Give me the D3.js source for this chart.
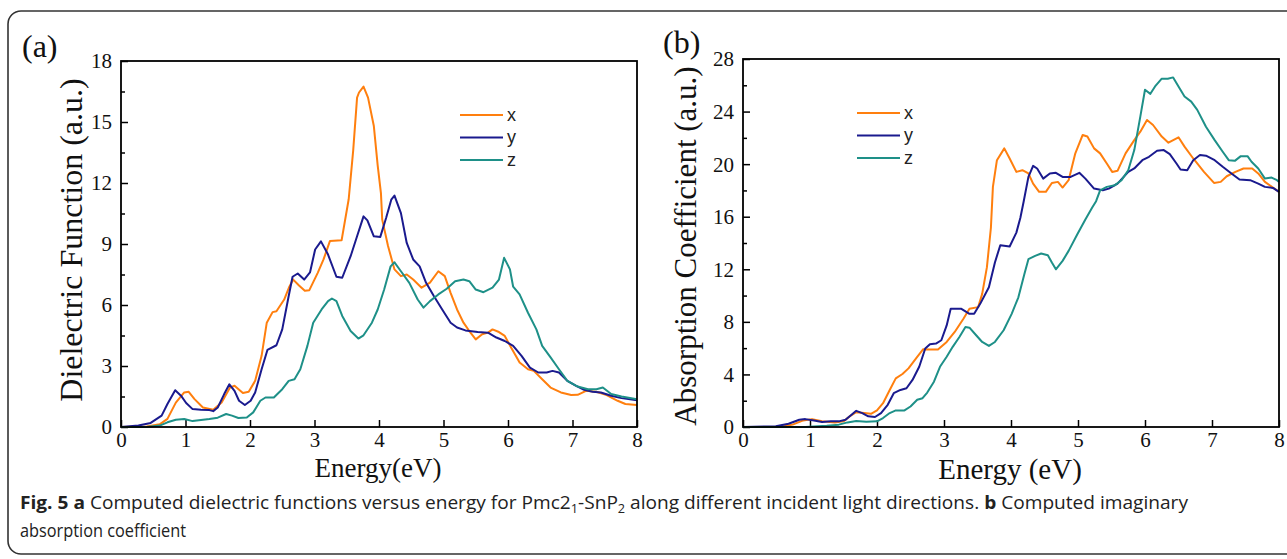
<!DOCTYPE html>
<html><head><meta charset="utf-8">
<script src="https://cdn.jsdelivr.net/npm/d3@7"></script>
<style>body{margin:0;background:#fff}svg{display:block}</style>
</head><body>
<svg id="c" width="1287" height="559"></svg>
<script>
// ---------- DATA ----------
const seriesNames = ["x", "y", "z"];
const xTicks = [0, 1, 2, 3, 4, 5, 6, 7, 8];
const dielTicks = [0, 3, 6, 9, 12, 15, 18];
const absTicks = [0, 4, 8, 12, 16, 20, 24, 28];

// (a) Dielectric function  [energy eV, value]
const dielX = [[0,0],[0.4,0.03],[0.6,0.13],[0.72,0.4],[0.85,1.2],[0.98,1.7],[1.05,1.73],[1.14,1.37],[1.27,0.96],[1.43,0.85],[1.56,1.2],[1.69,1.94],[1.76,2.03],[1.89,1.67],[1.98,1.73],[2.08,2.27],[2.18,3.5],[2.26,5.13],[2.35,5.65],[2.41,5.69],[2.53,6.27],[2.61,6.9],[2.67,7.25],[2.76,6.96],[2.85,6.7],[2.92,6.73],[3.05,7.58],[3.14,8.24],[3.24,9.15],[3.42,9.18],[3.53,11.2],[3.6,13.6],[3.66,16.2],[3.69,16.45],[3.76,16.74],[3.83,16.2],[3.92,14.8],[3.98,12.85],[4.03,11.5],[4.05,10.2],[4.14,8.9],[4.24,7.75],[4.34,7.42],[4.43,7.5],[4.53,7.25],[4.66,6.85],[4.79,7.1],[4.92,7.66],[5.02,7.42],[5.11,6.6],[5.21,5.78],[5.31,5.13],[5.4,4.72],[5.5,4.31],[5.6,4.56],[5.69,4.64],[5.76,4.8],[5.86,4.67],[5.95,4.48],[6.05,3.9],[6.18,3.17],[6.31,2.84],[6.4,2.76],[6.53,2.35],[6.66,1.94],[6.82,1.7],[6.98,1.57],[7.08,1.58],[7.21,1.78],[7.37,1.73],[7.53,1.57],[7.7,1.29],[7.82,1.13],[8,1.08]];
const dielY = [[0,0],[0.27,0.07],[0.46,0.2],[0.63,0.56],[0.72,1.13],[0.84,1.81],[0.93,1.54],[1.01,1.18],[1.11,0.88],[1.24,0.85],[1.37,0.83],[1.43,0.78],[1.5,0.96],[1.6,1.62],[1.68,2.1],[1.76,1.78],[1.83,1.29],[1.92,1.08],[2.01,1.29],[2.08,1.7],[2.18,2.84],[2.27,3.79],[2.41,4.02],[2.5,4.8],[2.6,6.44],[2.66,7.39],[2.74,7.55],[2.84,7.25],[2.93,7.6],[3.01,8.73],[3.1,9.13],[3.21,8.48],[3.34,7.39],[3.43,7.34],[3.56,8.4],[3.66,9.38],[3.76,10.36],[3.82,10.16],[3.92,9.38],[4.02,9.35],[4.11,10.28],[4.19,11.18],[4.24,11.38],[4.34,10.52],[4.43,9.05],[4.53,8.24],[4.63,7.9],[4.73,7.09],[4.85,6.44],[4.98,5.78],[5.11,5.13],[5.21,4.89],[5.34,4.75],[5.53,4.67],[5.69,4.64],[5.82,4.4],[5.95,4.23],[6.08,3.99],[6.21,3.5],[6.34,2.92],[6.47,2.68],[6.6,2.68],[6.69,2.76],[6.79,2.68],[6.92,2.27],[7.05,2.03],[7.18,1.83],[7.31,1.73],[7.44,1.7],[7.6,1.54],[7.76,1.42],[8,1.32]];
const dielZ = [[0,0],[0.4,0],[0.6,0.07],[0.72,0.23],[0.85,0.36],[0.98,0.39],[1.11,0.29],[1.24,0.34],[1.37,0.39],[1.5,0.46],[1.63,0.64],[1.72,0.56],[1.82,0.44],[1.95,0.47],[2.05,0.72],[2.16,1.29],[2.24,1.45],[2.37,1.45],[2.5,1.86],[2.6,2.27],[2.69,2.35],[2.78,2.84],[2.89,3.99],[2.98,5.13],[3.11,5.78],[3.21,6.19],[3.27,6.32],[3.34,6.19],[3.43,5.46],[3.56,4.72],[3.68,4.35],[3.76,4.51],[3.89,5.13],[3.98,5.78],[4.08,6.76],[4.18,7.9],[4.24,8.1],[4.34,7.66],[4.47,7.09],[4.6,6.27],[4.69,5.87],[4.79,6.19],[4.92,6.52],[5.05,6.8],[5.18,7.17],[5.31,7.25],[5.4,7.17],[5.5,6.76],[5.62,6.63],[5.76,6.85],[5.86,7.25],[5.94,8.32],[6.03,7.75],[6.08,6.9],[6.18,6.52],[6.31,5.62],[6.44,4.8],[6.53,3.99],[6.66,3.42],[6.79,2.84],[6.92,2.27],[7.08,1.99],[7.24,1.86],[7.37,1.86],[7.47,1.94],[7.6,1.62],[7.76,1.5],[8,1.37]];

// (b) Absorption coefficient [energy eV, value]
const absX = [[0,0],[0.55,0],[0.74,0.18],[0.9,0.5],[1.03,0.6],[1.18,0.43],[1.37,0.35],[1.5,0.43],[1.59,0.8],[1.69,1.13],[1.81,1.06],[1.91,1.0],[2.0,1.26],[2.09,1.81],[2.19,2.82],[2.28,3.7],[2.38,4.03],[2.47,4.46],[2.6,5.34],[2.69,5.92],[2.79,5.89],[2.91,5.89],[3.04,6.47],[3.16,7.23],[3.29,8.24],[3.38,8.99],[3.51,9.12],[3.57,10.13],[3.64,12.14],[3.7,15.16],[3.73,18.27],[3.79,20.3],[3.9,21.2],[3.98,20.43],[4.08,19.41],[4.17,19.54],[4.26,19.29],[4.33,18.52],[4.42,17.89],[4.52,17.89],[4.61,18.57],[4.7,18.65],[4.77,18.22],[4.86,18.78],[4.96,20.82],[5.07,22.22],[5.14,22.1],[5.24,21.2],[5.33,20.82],[5.43,20.05],[5.51,19.41],[5.59,19.49],[5.71,20.82],[5.84,21.83],[5.93,22.47],[6.03,23.36],[6.12,22.98],[6.25,22.1],[6.35,21.63],[6.5,22.04],[6.59,21.33],[6.72,20.43],[6.88,19.41],[7.03,18.57],[7.13,18.65],[7.22,19.08],[7.35,19.41],[7.47,19.67],[7.6,19.67],[7.69,19.29],[7.79,18.65],[7.91,18.22],[8,17.89]];
const absY = [[0,0],[0.49,0.05],[0.68,0.25],[0.84,0.55],[0.93,0.6],[1.06,0.5],[1.18,0.38],[1.31,0.43],[1.43,0.43],[1.53,0.55],[1.62,0.93],[1.69,1.23],[1.78,1.06],[1.87,0.81],[1.97,0.76],[2.06,1.06],[2.16,1.69],[2.25,2.57],[2.35,2.82],[2.44,2.95],[2.53,3.58],[2.63,4.58],[2.72,5.97],[2.79,6.3],[2.88,6.35],[2.96,6.6],[3.04,7.73],[3.1,8.99],[3.26,8.99],[3.38,8.61],[3.45,8.61],[3.54,9.37],[3.67,10.63],[3.76,12.52],[3.84,13.83],[3.98,13.73],[4.08,14.79],[4.14,15.92],[4.19,17.18],[4.26,19.03],[4.33,19.87],[4.39,19.67],[4.48,18.9],[4.58,19.29],[4.67,19.34],[4.77,19.03],[4.89,19.03],[5.02,19.34],[5.11,18.9],[5.24,18.14],[5.37,18.01],[5.46,18.14],[5.59,18.52],[5.75,19.41],[5.84,19.67],[5.96,20.3],[6.06,20.56],[6.18,21.02],[6.28,21.07],[6.37,20.76],[6.47,20.05],[6.53,19.59],[6.63,19.54],[6.72,20.3],[6.82,20.69],[6.91,20.64],[7.04,20.3],[7.16,19.8],[7.29,19.29],[7.41,18.83],[7.57,18.78],[7.69,18.52],[7.79,18.27],[7.91,18.19],[8,17.89]];
const absZ = [[0,0],[0.93,0],[1.25,0.1],[1.43,0.18],[1.56,0.35],[1.69,0.45],[1.84,0.4],[2.0,0.43],[2.09,0.68],[2.19,1.06],[2.28,1.26],[2.41,1.26],[2.5,1.56],[2.6,2.07],[2.68,2.19],[2.75,2.62],[2.85,3.45],[2.94,4.58],[3.04,5.34],[3.13,6.1],[3.23,6.85],[3.32,7.61],[3.38,7.56],[3.48,6.98],[3.57,6.47],[3.67,6.17],[3.76,6.47],[3.89,7.36],[4.01,8.61],[4.11,9.87],[4.2,11.64],[4.26,12.77],[4.36,13.02],[4.45,13.2],[4.55,13.07],[4.61,12.52],[4.67,12.0],[4.77,12.64],[4.86,13.4],[4.99,14.66],[5.11,15.79],[5.21,16.68],[5.27,17.18],[5.33,18.01],[5.43,18.27],[5.55,18.4],[5.65,18.78],[5.75,19.54],[5.84,21.07],[5.93,23.62],[6.0,25.66],[6.08,25.35],[6.15,25.91],[6.25,26.5],[6.34,26.5],[6.42,26.6],[6.5,25.91],[6.59,25.15],[6.69,24.76],[6.78,24.13],[6.91,22.85],[7.04,21.83],[7.16,20.94],[7.25,20.3],[7.34,20.25],[7.43,20.61],[7.53,20.61],[7.59,20.18],[7.69,19.67],[7.79,18.9],[7.89,18.98],[7.97,18.78],[8,18.65]];

const colors = ["#ff7f0e", "#1a1a8e", "#1e9088"];

// ---------- DRAW ----------
const svg = d3.select("#c");
const serif = "'Liberation Serif','Times New Roman',serif";

svg.append("rect").attr("x", 8).attr("y", 11).attr("width", 1300).attr("height", 543)
  .attr("rx", 13).attr("fill", "none").attr("stroke", "#333").attr("stroke-width", 1.6);

function panel(o) {
  const g = svg.append("g");
  const x = d3.scaleLinear().domain([0, 8]).range([o.x0, o.x1]);
  const y = d3.scaleLinear().domain([0, o.ymax]).range([o.y0, o.y1]);
  // minor ticks (y only)
  const minor = d3.range(o.ystep / 2, o.ymax, o.ystep);
  g.append("g").attr("transform", `translate(${o.x0},0)`)
    .call(d3.axisRight(y).tickValues(minor).tickSize(4).tickFormat(""))
    .call(a => a.select(".domain").remove())
    .selectAll("line").attr("stroke", "#000").attr("stroke-width", 1.5);
  // major y ticks inward, labels outside
  const ya = g.append("g").attr("transform", `translate(${o.x0},0)`)
    .call(d3.axisRight(y).tickValues(o.yTicks).tickSize(7).tickFormat(d3.format("d")));
  ya.select(".domain").remove();
  ya.selectAll("line").attr("stroke", "#000").attr("stroke-width", 1.5);
  ya.selectAll("text").attr("x", -9).attr("text-anchor", "end").attr("dy", "0.33em")
    .style("font-family", serif).style("font-size", "21px").attr("fill", "#111");
  // x ticks inward
  const xa = g.append("g").attr("transform", `translate(0,${o.y0})`)
    .call(d3.axisTop(x).tickValues(xTicks).tickSize(7).tickFormat(d3.format("d")));
  xa.select(".domain").remove();
  xa.selectAll("line").attr("stroke", "#000").attr("stroke-width", 1.5);
  xa.selectAll("text").attr("y", 5).attr("dy", "0.71em")
    .style("font-family", serif).style("font-size", "21px").attr("fill", "#111");

  const line = d3.line().x(d => x(d[0])).y(d => y(d[1]));
  o.series.forEach((s, i) => {
    g.append("path").datum(s).attr("d", line).attr("fill", "none")
      .attr("stroke", colors[i]).attr("stroke-width", 2).attr("stroke-linejoin", "round");
  });
  // frame
  g.append("rect").attr("x", o.x0).attr("y", o.y1).attr("width", o.x1 - o.x0).attr("height", o.y0 - o.y1)
    .attr("fill", "none").attr("stroke", "#000").attr("stroke-width", 1.8);

  // legend
  seriesNames.forEach((n, i) => {
    const ly = o.leg[1] + i * 22.5;
    g.append("line").attr("x1", o.leg[0]).attr("x2", o.leg[0] + 43).attr("y1", ly).attr("y2", ly)
      .attr("stroke", colors[i]).attr("stroke-width", 2);
    g.append("text").attr("x", o.leg[0] + 47).attr("y", ly).attr("dy", "0.33em").text(n)
      .style("font-family", "'Liberation Sans',Arial,sans-serif").style("font-size", "18px").attr("fill", "#222");
  });
  // titles
  g.append("text").attr("x", o.xtX).attr("y", o.xtY).attr("text-anchor", "middle")
    .style("font-family", serif).style("font-size", o.xtSize + "px").attr("fill", "#111").text(o.xtitle);
  g.append("text").attr("transform", `translate(${o.ytX},${o.ytY}) rotate(-90)`).attr("text-anchor", "middle")
    .style("font-family", serif).style("font-size", o.ytSize + "px").attr("fill", "#111").text(o.ytitle);
  g.append("text").attr("x", o.lab[0]).attr("y", o.lab[1])
    .style("font-family", serif).style("font-size", "32px").attr("fill", "#111").text(o.label);
}

panel({x0: 121, x1: 637, y0: 427, y1: 61, ymax: 18, ystep: 3, yTicks: dielTicks,
  series: [dielX, dielY, dielZ], leg: [460, 115],
  xtitle: "Energy(eV)", xtX: 378, xtY: 477, xtSize: 27,
  ytitle: "Dielectric Function (a.u.)", ytX: 82, ytY: 240, ytSize: 32,
  label: "(a)", lab: [22, 57]});

panel({x0: 743, x1: 1279, y0: 427, y1: 59, ymax: 28, ystep: 4, yTicks: absTicks,
  series: [absX, absY, absZ], leg: [857, 113],
  xtitle: "Energy (eV)", xtX: 1010, xtY: 479, xtSize: 29,
  ytitle: "Absorption Coefficient (a.u.)", ytX: 696, ytY: 246, ytSize: 31,
  label: "(b)", lab: [663, 53]});

// caption
const capFont = "'Open Sans','Noto Sans',sans-serif";
const c1 = svg.append("text").attr("x", 20).attr("y", 509)
  .style("font-family", capFont).style("font-size", "18px").attr("fill", "#222")
  .attr("textLength", 1168).attr("lengthAdjust", "spacingAndGlyphs");
c1.append("tspan").style("font-weight", "bold").text("Fig. 5 a");
c1.append("tspan").text(" Computed dielectric functions versus energy for Pmc2");
c1.append("tspan").attr("dy", 4).style("font-size", "12px").text("1");
c1.append("tspan").attr("dy", -4).text("-SnP");
c1.append("tspan").attr("dy", 4).style("font-size", "12px").text("2");
c1.append("tspan").attr("dy", -4).text(" along different incident light directions. ");
c1.append("tspan").style("font-weight", "bold").text("b");
c1.append("tspan").text(" Computed imaginary");
svg.append("text").attr("x", 20).attr("y", 537)
  .style("font-family", capFont).style("font-size", "18px").attr("fill", "#222")
  .attr("textLength", 166).attr("lengthAdjust", "spacingAndGlyphs")
  .text("absorption coefficient");
</script>
</body></html>
